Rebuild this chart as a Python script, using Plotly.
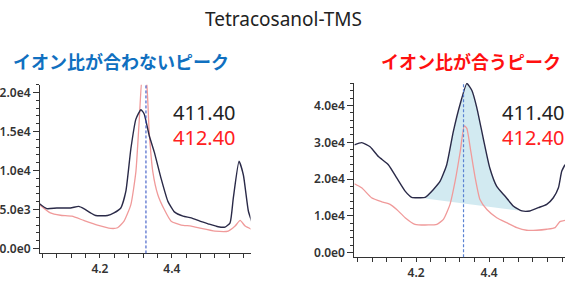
import plotly.graph_objects as go

# ---- data ----
title_text = "Tetracosanol-TMS"
left_title = "イオン比が合わないピーク"
right_title = "イオン比が合うピーク"
series_names = ["411.40", "412.40"]

left_x_411 = [4.032, 4.052, 4.080, 4.118, 4.141, 4.155, 4.174, 4.188, 4.221, 4.239, 4.258, 4.272, 4.286,
              4.300, 4.314, 4.323, 4.337, 4.351, 4.370, 4.389, 4.407, 4.431, 4.454, 4.478, 4.501, 4.529,
              4.548, 4.562, 4.571, 4.587, 4.599, 4.613, 4.622]
left_y_411 = [5750, 5120, 5200, 5200, 5410, 5120, 4570, 4230, 4230, 4570, 5200, 7320, 12800,
              16600, 17800, 17260, 14500, 12400, 9000, 6050, 4700, 4150, 3930, 3510, 3170, 2790,
              2750, 3300, 6470, 11200, 9430, 4780, 3510]
left_x_412 = [4.032, 4.062, 4.090, 4.122, 4.155, 4.193, 4.230, 4.249, 4.267, 4.286, 4.300, 4.309, 4.319,
              4.328, 4.337, 4.347, 4.361, 4.379, 4.398, 4.426, 4.454, 4.482, 4.520, 4.557, 4.576, 4.590,
              4.604, 4.622]
left_y_412 = [5630, 4570, 4270, 4150, 3600, 3000, 2580, 2660, 3510, 5630, 9860, 16200, 22500,
              22000, 14900, 9860, 6900, 5000, 3510, 3000, 2880, 2580, 2240, 2240, 2880, 3600,
              2880, 2450]
left_marker_x = 4.328

right_x_411 = [4.031, 4.051, 4.074, 4.097, 4.124, 4.147, 4.170, 4.188, 4.211, 4.225, 4.247, 4.266, 4.284,
               4.302, 4.321, 4.339, 4.353, 4.366, 4.384, 4.402, 4.421, 4.444, 4.467, 4.490, 4.512, 4.535,
               4.558, 4.576, 4.590, 4.599, 4.608]
right_y_411 = [29300, 29900, 28800, 26100, 23900, 20300, 16700, 15000, 14900, 15000, 17100, 19400, 23900,
               32900, 40500, 46000, 44100, 39600, 31100, 23000, 18000, 15300, 12600, 11300, 11300, 12200,
               13100, 14900, 17600, 22100, 23900]
right_x_412 = [4.031, 4.051, 4.078, 4.106, 4.129, 4.147, 4.170, 4.197, 4.234, 4.257, 4.275, 4.293, 4.307,
               4.321, 4.332, 4.339, 4.350, 4.362, 4.375, 4.394, 4.421, 4.448, 4.476, 4.503, 4.530, 4.558,
               4.581, 4.594, 4.608]
right_y_412 = [18700, 17600, 14900, 13800, 13100, 11700, 9460, 7660, 7480, 7660, 9010, 13100, 19400,
               27500, 34500, 33800, 27500, 20300, 14400, 11700, 9460, 8110, 6760, 6040, 6040, 6310,
               6760, 8380, 8740]
right_base_x = [4.225, 4.480]
right_base_y = [14700, 11400]
right_apex_x = [4.336]
right_apex_y = [47600]
right_marker_x = 4.330

left_ytick_vals = [0, 5000, 10000, 15000, 20000]
left_ytick_text = ["0.0e0", "5.0e3", "1.0e4", "1.5e4", "2.0e4"]
right_ytick_vals = [0, 10000, 20000, 30000, 40000]
right_ytick_text = ["0.0e0", "1.0e4", "2.0e4", "3.0e4", "4.0e4"]
xtick_vals = [4.2, 4.4]
xtick_text = ["4.2", "4.4"]

# ---- styles ----
BLACK = "#2a2a48"
RED = "#f09a9a"
AX = "#333333"
TICKFONT = dict(family="Noto Sans", size=12, color="#333333", weight=600)
SPL = dict(shape="spline", smoothing=0.5)

fig = go.Figure()

# left panel
fig.add_trace(go.Scatter(x=left_x_412, y=left_y_412, mode="lines", line=dict(color=RED, width=1.3, **SPL),
                         xaxis="x", yaxis="y", showlegend=False))
fig.add_trace(go.Scatter(x=left_x_411, y=left_y_411, mode="lines", line=dict(color=BLACK, width=1.4, **SPL),
                         xaxis="x", yaxis="y", showlegend=False))

# right panel fill polygon
in_rng = [(x, y) for x, y in zip(right_x_411, right_y_411) if right_base_x[0] < x < right_base_x[1]]
poly_x = [right_base_x[0]] + [p[0] for p in in_rng] + [right_base_x[1], right_base_x[0]]
poly_y = [right_base_y[0]] + [p[1] for p in in_rng] + [right_base_y[1], right_base_y[0]]
fig.add_trace(go.Scatter(x=poly_x, y=poly_y, mode="lines", fill="toself",
                         fillcolor="rgba(173,216,230,0.55)", line=dict(width=0),
                         xaxis="x2", yaxis="y2", showlegend=False, hoverinfo="skip"))
fig.add_trace(go.Scatter(x=right_x_412, y=right_y_412, mode="lines", line=dict(color=RED, width=1.3, **SPL),
                         xaxis="x2", yaxis="y2", showlegend=False))
fig.add_trace(go.Scatter(x=right_x_411, y=right_y_411, mode="lines", line=dict(color=BLACK, width=1.4, **SPL),
                         xaxis="x2", yaxis="y2", showlegend=False))
fig.add_trace(go.Scatter(x=right_apex_x, y=right_apex_y, mode="markers",
                         marker=dict(symbol="triangle-down", size=10, color="#1a2a5a"),
                         xaxis="x2", yaxis="y2", showlegend=False, cliponaxis=False))

def xax(domain, rng, anchor):
    return dict(domain=domain, range=rng, anchor=anchor, showgrid=False, zeroline=False,
                showline=True, linecolor=AX, linewidth=1, ticks="outside", ticklen=4, tickcolor=AX,
                tickmode="array", tickvals=xtick_vals, ticktext=xtick_text, tickfont=TICKFONT,
                minor=dict(ticks="outside", ticklen=4, tickcolor=AX, dtick=0.04, tick0=4.0))

def yax(domain, rng, anchor, vals, text, mdt):
    return dict(domain=domain, range=rng, anchor=anchor, showgrid=False, zeroline=False,
                showline=True, linecolor=AX, linewidth=1, ticks="outside", ticklen=6, tickcolor=AX,
                tickmode="array", tickvals=vals, ticktext=text, tickfont=TICKFONT,
                minor=dict(ticks="outside", ticklen=3, tickcolor=AX, dtick=mdt, tick0=0))

fig.update_layout(
    width=565, height=287, margin=dict(l=0, r=0, t=0, b=0),
    paper_bgcolor="white", plot_bgcolor="white",
    xaxis=xax([39/565, 250/565], [4.033, 4.619], "y"),
    yaxis=yax([1-256/287, 1-85/287], [-630, 21000], "x", left_ytick_vals, left_ytick_text, 1000),
    xaxis2=xax([354/565, 1.0], [4.031, 4.608], "y2"),
    yaxis2=yax([1-260/287, 1-83/287], [-1350, 46200], "x2", right_ytick_vals, right_ytick_text, 2000),
)

fig.add_shape(type="line", xref="x", yref="y domain", x0=left_marker_x, x1=left_marker_x, y0=0, y1=1,
              line=dict(color="#2848c0", width=1, dash="3px,2px"))
fig.add_shape(type="line", xref="x2", yref="y2", x0=right_marker_x, x1=right_marker_x, y0=-1350, y1=46500,
              line=dict(color="#5a82d2", width=1.2, dash="3px,2px"))

ann = []
ann.append(dict(text=title_text, x=0.5, y=1-18/287, xref="paper", yref="paper", showarrow=False,
                xanchor="center", yanchor="middle", font=dict(family="Noto Sans", size=19, color="#222222")))
ann.append(dict(text=left_title, x=10/565, y=1-61/287, xref="paper", yref="paper", showarrow=False,
                xanchor="left", yanchor="middle",
                font=dict(family="Noto Sans CJK JP", size=18, color="#1070c0", weight="bold")))
ann.append(dict(text=right_title, x=563/565, y=1-61/287, xref="paper", yref="paper", showarrow=False,
                xanchor="right", yanchor="middle",
                font=dict(family="Noto Sans CJK JP", size=18, color="#ff1010", weight="bold")))
for xp in (170/565, 500/565):
    ann.append(dict(text=series_names[0], x=xp, y=1-113.5/287, xref="paper", yref="paper", showarrow=False,
                    xanchor="left", yanchor="middle", font=dict(family="Noto Sans", size=20, color="#222222")))
    ann.append(dict(text=series_names[1], x=xp, y=1-138.5/287, xref="paper", yref="paper", showarrow=False,
                    xanchor="left", yanchor="middle", font=dict(family="Noto Sans", size=20, color="#ff2020")))
fig.update_layout(annotations=ann)

fig.write_html("out.html", config={"displayModeBar": False},
               post_script="document.body.style.margin='0';document.body.style.overflow='hidden';")
